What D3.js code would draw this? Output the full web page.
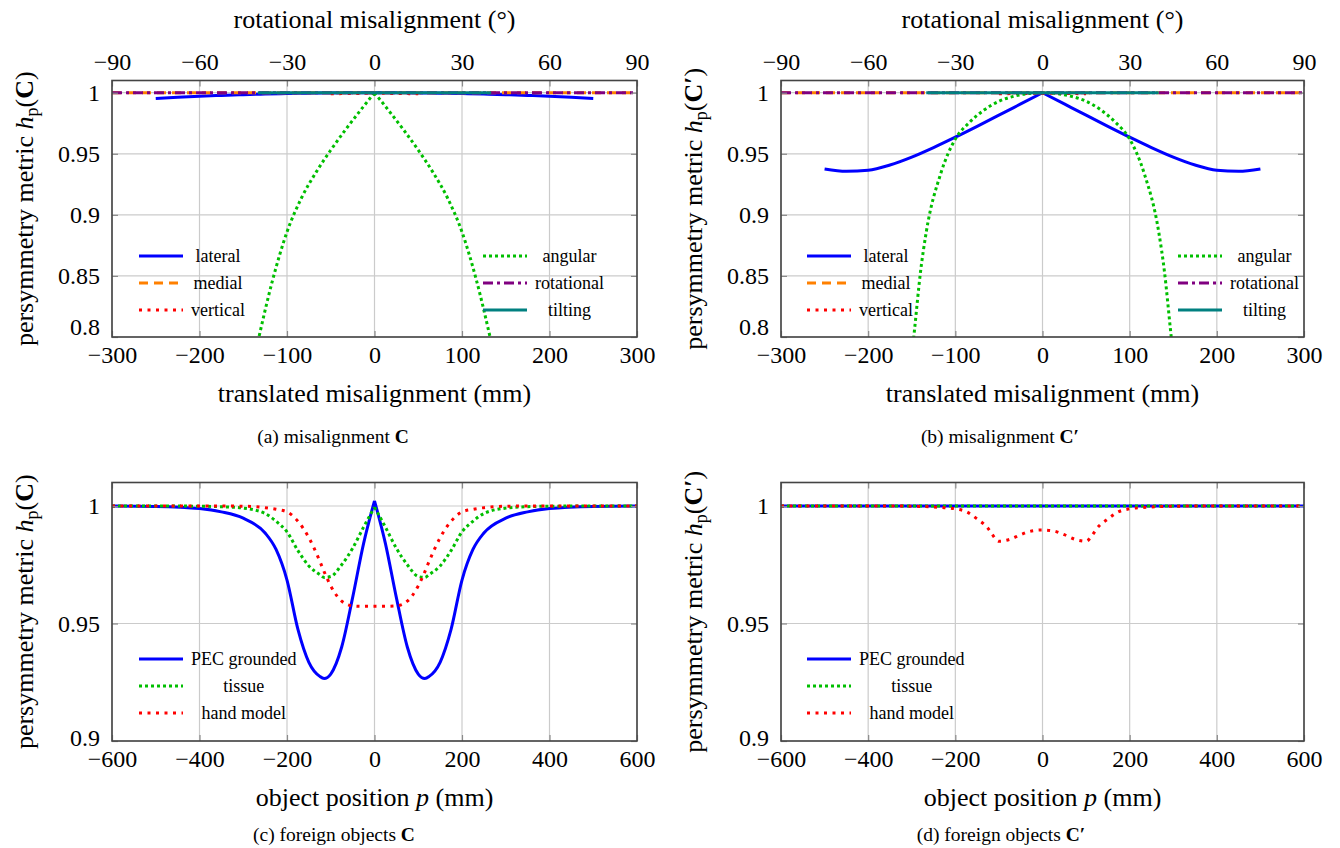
<!DOCTYPE html>
<html>
<head>
<meta charset="utf-8">
<script src="https://cdn.jsdelivr.net/npm/d3@7"></script>
<style>
  body { margin: 0; background: #fff; }
  text { font-family: "Liberation Serif", "Times New Roman", serif; fill: #000; }
</style>
</head>
<body>
<script>
// ---------- data ----------
// tick labels
const transTicks = [-300, -200, -100, 0, 100, 200, 300];   // mm
const rotTicks = [-90, -60, -30, 0, 30, 60, 90];           // degrees
const posTicks = [-600, -400, -200, 0, 200, 400, 600];     // mm
const yTicksTop = [0.8, 0.85, 0.9, 0.95, 1];
const yTicksBottom = [0.9, 0.95, 1];

// x positions of the series
const latX = [-250, -225, -200, -175, -150, -125, -100, -75, -50, -25, 0, 25, 50, 75, 100, 125, 150, 175, 200, 225, 250];
const medX = [-300, -200, -100, 0, 100, 200, 300];
const vertX = [-50, -25, 0, 25, 50];
const angXa = [-40, -35, -30, -25, -20, -15, -10, -5, 0, 5, 10, 15, 20, 25, 30, 35, 40];
const angXb = [-45, -44, -42, -40, -35, -30, -25, -20, -15, -10, -5, 0, 5, 10, 15, 20, 25, 30, 35, 40, 42, 44, 45];
const rotX = [-90, -60, -30, 0, 30, 60, 90];
const tiltX = [-40, -20, 0, 20, 40];
const posX = [-600, -500, -400, -350, -300, -250, -225, -200, -175, -150, -125, -115, -100, -75, -50, -25, 0,
              25, 50, 75, 100, 115, 125, 150, 175, 200, 225, 250, 300, 350, 400, 500, 600];
const edgeX = [-600, -300, 0, 300, 600];

// (a) misalignment C
const aLateral = [0.9952, 0.9962, 0.9971, 0.9978, 0.9984, 0.9989, 0.9993, 0.9996, 0.9998, 0.99995, 1.0,
                  0.99995, 0.9998, 0.9996, 0.9993, 0.9989, 0.9984, 0.9978, 0.9971, 0.9962, 0.9952];
const aMedial = [1, 1, 1, 1, 1, 1, 1];
const aVertical = [0.9991, 0.9994, 0.9995, 0.9994, 0.9991];
const aAngular = [0.796, 0.846, 0.886, 0.914, 0.935, 0.953, 0.9695, 0.985, 1.0,
                  0.985, 0.9695, 0.953, 0.935, 0.914, 0.886, 0.846, 0.796];
const aRotational = [1, 1, 1, 1, 1, 1, 1];
const aTilting = [1, 1, 1, 1, 1];

// (b) misalignment C'
const bLateral = [0.9375, 0.9356, 0.9365, 0.9408, 0.9473, 0.9551, 0.9636, 0.9725, 0.9816, 0.9908, 1.0,
                  0.9908, 0.9816, 0.9725, 0.9636, 0.9551, 0.9473, 0.9408, 0.9365, 0.9356, 0.9375];
const bMedial = [1, 1, 1, 1, 1, 1, 1];
const bVertical = [0.9991, 0.9994, 0.9995, 0.9994, 0.9991];
const bAngular = [0.784, 0.807, 0.853, 0.886, 0.934, 0.962, 0.976, 0.986, 0.993, 0.997, 0.9993, 1.0,
                  0.9993, 0.997, 0.993, 0.986, 0.976, 0.962, 0.934, 0.886, 0.853, 0.807, 0.784];
const bRotational = [1, 1, 1, 1, 1, 1, 1];
const bTilting = [1, 1, 1, 1, 1];

// (c) foreign objects C
const cPec = [1.0, 0.9998, 0.9989, 0.9975, 0.9948, 0.9885, 0.9815, 0.9685, 0.9475, 0.9335, 0.9275, 0.9266, 0.9285, 0.94, 0.961, 0.984, 1.0022,
              0.984, 0.961, 0.94, 0.9285, 0.9266, 0.9275, 0.9335, 0.9475, 0.9685, 0.9815, 0.9885, 0.9948, 0.9975, 0.9989, 0.9998, 1.0];
const cTissue = [1.0, 1.0, 0.9999, 0.9997, 0.9991, 0.9968, 0.9935, 0.989, 0.981, 0.9745, 0.9708, 0.9696, 0.970, 0.975, 0.982, 0.991, 0.9995,
                 0.991, 0.982, 0.975, 0.970, 0.9696, 0.9708, 0.9745, 0.981, 0.989, 0.9935, 0.9968, 0.9991, 0.9997, 0.9999, 1.0, 1.0];
const cHand = [1.0, 1.0, 1.0, 1.0, 0.9999, 0.9993, 0.9986, 0.9975, 0.9935, 0.9865, 0.9765, 0.972, 0.966, 0.9595, 0.9575, 0.9573, 0.9573,
               0.9573, 0.9575, 0.9595, 0.966, 0.972, 0.9765, 0.9865, 0.9935, 0.9975, 0.9986, 0.9993, 0.9999, 1.0, 1.0, 1.0, 1.0];

// (d) foreign objects C'
const dPec = [1, 1, 1, 1, 1];
const dTissue = [1, 1, 1, 1, 1];
const dHand = [1.0, 1.0, 1.0, 1.0, 0.9999, 0.9996, 0.9993, 0.9988, 0.9976, 0.9945, 0.9905, 0.9878, 0.985, 0.9858, 0.9878, 0.9894, 0.9898,
               0.9894, 0.9878, 0.9858, 0.985, 0.9878, 0.9905, 0.9945, 0.9976, 0.9988, 0.9993, 0.9996, 0.9999, 1.0, 1.0, 1.0, 1.0];

// ---------- styles ----------
const FONT = '"Liberation Serif", "Times New Roman", serif';
const sty = {
  lateral:    { color: "#0000ff", dash: null },
  medial:     { color: "#ff8000", dash: "9,6" },
  vertical:   { color: "#ff0000", dash: "3,5.5" },
  angular:    { color: "#00bf00", dash: "3,3" },
  rotational: { color: "#800080", dash: "10,4,3,4" },
  tilting:    { color: "#008080", dash: null }
};

function series(label, xs, ys, axis, style, cusp) {
  return { label: label, pts: xs.map((v, i) => [v, ys[i]]), axis: axis, color: style.color, dash: style.dash, cusp: cusp };
}

const panels = [
  { x0: 112, x1: 637, y0: 80.5, y1: 337, xDomain: [-300, 300], topDomain: [-90, 90], yDomain: [0.8, 1.01],
    xTicks: transTicks, topTicks: rotTicks, yTicks: yTicksTop, prime: false, lowShift: -10,
    xTitle: ["translated misalignment (mm)"], caption: ["(a) misalignment ", "C"], capX: 333, capY: 443,
    series: [
      series("lateral", latX, aLateral, "b", sty.lateral, false),
      series("medial", medX, aMedial, "b", sty.medial, false),
      series("vertical", vertX, aVertical, "b", sty.vertical, false),
      series("angular", angXa, aAngular, "t", sty.angular, true),
      series("rotational", rotX, aRotational, "t", sty.rotational, false),
      series("tilting", tiltX, aTilting, "t", sty.tilting, false)
    ],
    legend: [{ x: 139, items: [0, 1, 2] }, { x: 483, items: [3, 4, 5] }], legendRows: [256, 283, 310] },
  { x0: 781, x1: 1304, y0: 80.5, y1: 337, xDomain: [-300, 300], topDomain: [-90, 90], yDomain: [0.8, 1.01],
    xTicks: transTicks, topTicks: rotTicks, yTicks: yTicksTop, prime: true, lowShift: -10,
    xTitle: ["translated misalignment (mm)"], caption: ["(b) misalignment ", "C′"], capX: 1000, capY: 443,
    series: [
      series("lateral", latX, bLateral, "b", sty.lateral, true),
      series("medial", medX, bMedial, "b", sty.medial, false),
      series("vertical", vertX, bVertical, "b", sty.vertical, false),
      series("angular", angXb, bAngular, "t", sty.angular, false),
      series("rotational", rotX, bRotational, "t", sty.rotational, false),
      series("tilting", tiltX, bTilting, "t", sty.tilting, false)
    ],
    legend: [{ x: 807, items: [0, 1, 2] }, { x: 1178, items: [3, 4, 5] }], legendRows: [256, 283, 310] },
  { x0: 112, x1: 637, y0: 482.5, y1: 741, xDomain: [-600, 600], topDomain: null, yDomain: [0.9, 1.01],
    xTicks: posTicks, topTicks: null, yTicks: yTicksBottom, prime: false, lowShift: -3,
    xTitle: ["object position ", "p", " (mm)"], caption: ["(c) foreign objects ", "C"], capX: 334, capY: 841,
    series: [
      series("PEC grounded", posX, cPec, "b", sty.lateral, true),
      series("tissue", posX, cTissue, "b", sty.angular, true),
      series("hand model", posX, cHand, "b", sty.vertical, false)
    ],
    legend: [{ x: 139, items: [0, 1, 2] }], legendRows: [659, 686, 713] },
  { x0: 781, x1: 1304, y0: 482.5, y1: 741, xDomain: [-600, 600], topDomain: null, yDomain: [0.9, 1.01],
    xTicks: posTicks, topTicks: null, yTicks: yTicksBottom, prime: true, lowShift: -3,
    xTitle: ["object position ", "p", " (mm)"], caption: ["(d) foreign objects ", "C′"], capX: 1001, capY: 841,
    series: [
      series("PEC grounded", edgeX, dPec, "b", sty.lateral, false),
      series("tissue", edgeX, dTissue, "b", sty.angular, false),
      series("hand model", posX, dHand, "b", sty.vertical, false)
    ],
    legend: [{ x: 807, items: [0, 1, 2] }], legendRows: [659, 686, 713] }
];

// ---------- drawing ----------
const svg = d3.select("body").append("svg")
  .attr("width", 1340)
  .attr("height", 848)
  .attr("font-family", FONT);

svg.append("rect").attr("width", 1340).attr("height", 848).attr("fill", "#fff");

const fmt = d3.format("");
const gridColor = "#cbcbcb";
const tickColor = "#8a8a8a";

function styleAxis(ax, size) {
  ax.select(".domain").remove();
  ax.attr("font-family", FONT).attr("font-size", size);
  ax.selectAll("line").attr("stroke", tickColor).attr("stroke-width", 1.2);
  ax.selectAll("text").style("font-size", size + "px").style("font-family", FONT);
}

panels.forEach(function(p, pi) {
  const g = svg.append("g");
  const x = d3.scaleLinear().domain(p.xDomain).range([p.x0, p.x1]);
  const xTop = p.topDomain ? d3.scaleLinear().domain(p.topDomain).range([p.x0, p.x1]) : null;
  const y = d3.scaleLinear().domain(p.yDomain).range([p.y1, p.y0]);

  //grid lines
  g.append("g").selectAll("line").data(p.xTicks).join("line")
    .attr("x1", d => x(d)).attr("x2", d => x(d))
    .attr("y1", p.y0).attr("y2", p.y1)
    .attr("stroke", gridColor).attr("stroke-width", 1.2);
  g.append("g").selectAll("line").data(p.yTicks).join("line")
    .attr("x1", p.x0).attr("x2", p.x1)
    .attr("y1", d => y(d)).attr("y2", d => y(d))
    .attr("stroke", gridColor).attr("stroke-width", 1.2);

  //clip area
  const clipId = "clip" + pi;
  svg.append("clipPath").attr("id", clipId).append("rect")
    .attr("x", p.x0).attr("y", p.y0).attr("width", p.x1 - p.x0).attr("height", p.y1 - p.y0);

  //curves
  const plot = g.append("g").attr("clip-path", "url(#" + clipId + ")");
  p.series.forEach(function(s) {
    const sx = s.axis === "t" ? xTop : x;
    const line = d3.line().x(d => sx(d[0])).y(d => y(d[1])).curve(d3.curveMonotoneX);
    let path;
    if (s.cusp) {
      path = line(s.pts.filter(d => d[0] <= 0)) + line(s.pts.filter(d => d[0] >= 0));
    } else {
      path = line(s.pts);
    }
    plot.append("path")
      .attr("d", path)
      .attr("fill", "none")
      .attr("stroke", s.color)
      .attr("stroke-width", 3)
      .attr("stroke-dasharray", s.dash);
  });

  //axes
  const axB = g.append("g").attr("transform", "translate(0," + p.y1 + ")")
    .call(d3.axisBottom(x).tickValues(p.xTicks).tickFormat(fmt).tickSize(-6).tickPadding(9));
  styleAxis(axB, 24);
  const axL = g.append("g").attr("transform", "translate(" + p.x0 + ",0)")
    .call(d3.axisLeft(y).tickValues(p.yTicks).tickFormat(fmt).tickSize(-6).tickPadding(12));
  styleAxis(axL, 24);
  //lowest label sits a little higher, clear of the x labels
  axL.selectAll(".tick text").filter(d => d === p.yTicks[0]).attr("y", p.lowShift);
  const axR = g.append("g").attr("transform", "translate(" + p.x1 + ",0)")
    .call(d3.axisRight(y).tickValues(p.yTicks).tickFormat("").tickSize(-6));
  styleAxis(axR, 24);
  if (xTop) {
    const axT = g.append("g").attr("transform", "translate(0," + p.y0 + ")")
      .call(d3.axisTop(xTop).tickValues(p.topTicks).tickFormat(fmt).tickSize(-6).tickPadding(10.5));
    styleAxis(axT, 24);
  } else {
    const axT = g.append("g").attr("transform", "translate(0," + p.y0 + ")")
      .call(d3.axisTop(x).tickValues(p.xTicks).tickFormat("").tickSize(-6));
    styleAxis(axT, 24);
  }

  //plot box
  g.append("rect")
    .attr("x", p.x0).attr("y", p.y0)
    .attr("width", p.x1 - p.x0).attr("height", p.y1 - p.y0)
    .attr("fill", "none").attr("stroke", "#444").attr("stroke-width", 1.6);

  const cx = (p.x0 + p.x1) / 2;
  const cy = (p.y0 + p.y1) / 2;

  //top axis title
  if (xTop) {
    g.append("text").attr("x", cx).attr("y", 28).attr("text-anchor", "middle")
      .style("font-size", "26px").text("rotational misalignment (°)");
  }

  //bottom axis title
  const xt = g.append("text").attr("x", cx).attr("y", p.y1 + 65).attr("text-anchor", "middle")
    .style("font-size", "26px");
  p.xTitle.forEach(function(part, i) {
    xt.append("tspan").style("font-style", i === 1 ? "italic" : null).text(part);
  });

  //y label
  const yl = g.append("text")
    .attr("transform", "translate(" + (p.x0 - 79) + "," + cy + ") rotate(-90)")
    .attr("text-anchor", "middle")
    .style("font-size", "26px");
  yl.append("tspan").text("persymmetry metric ");
  yl.append("tspan").style("font-style", "italic").text("h");
  yl.append("tspan").attr("dy", 5).style("font-size", "18px").text("p");
  yl.append("tspan").attr("dy", -5).text("(");
  yl.append("tspan").style("font-weight", "bold").text(p.prime ? "C′" : "C");
  yl.append("tspan").text(")");

  //caption
  const cap = g.append("text").attr("x", p.capX).attr("y", p.capY).attr("text-anchor", "middle")
    .style("font-size", "19.5px");
  cap.append("tspan").text(p.caption[0]);
  cap.append("tspan").style("font-weight", "bold").text(p.caption[1]);

  //legend
  p.legend.forEach(function(col) {
    const lg = g.append("g");
    col.items.forEach(function(idx, r) {
      const s = p.series[idx];
      const ly = p.legendRows[r];
      lg.append("line")
        .attr("x1", col.x).attr("x2", col.x + 44)
        .attr("y1", ly).attr("y2", ly)
        .attr("stroke", s.color).attr("stroke-width", 3)
        .attr("stroke-dasharray", s.dash);
    });
    const labels = col.items.map(function(idx, r) {
      return lg.append("text").attr("y", p.legendRows[r] + 6)
        .attr("text-anchor", "middle")
        .style("font-size", "18px")
        .text(p.series[idx].label);
    });
    const maxW = d3.max(labels, t => t.node().getComputedTextLength());
    labels.forEach(t => t.attr("x", col.x + 44 + 8 + maxW / 2));
  });
});
</script>
</body>
</html>
